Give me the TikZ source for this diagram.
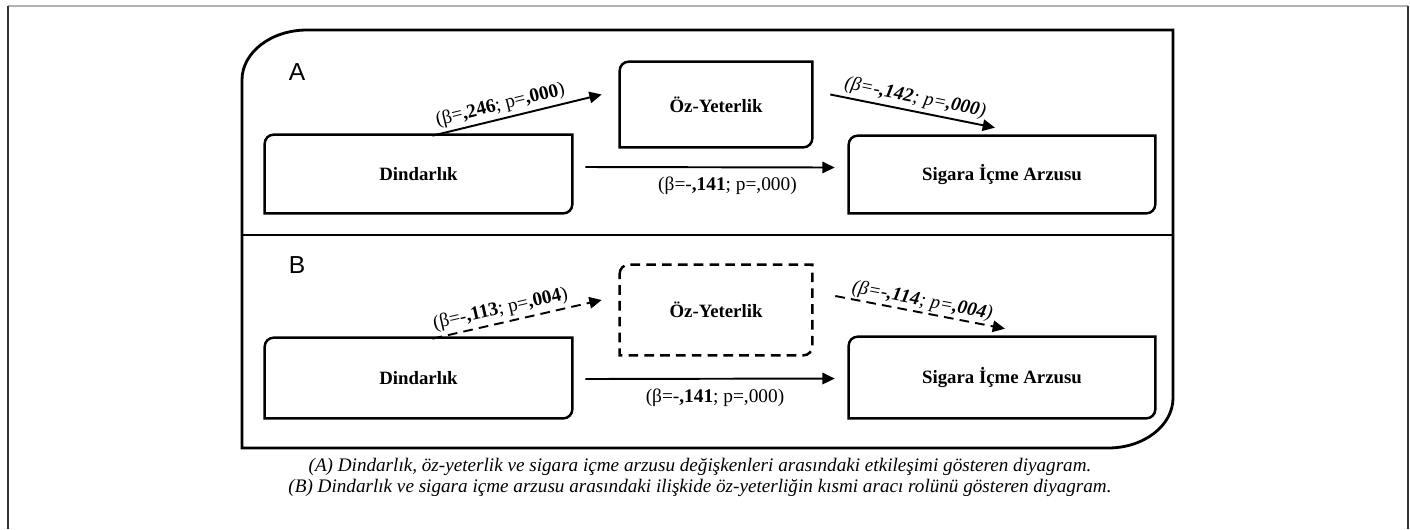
\documentclass[tikz,border=0pt]{standalone}
\usepackage{fontspec}
\setmainfont{Liberation Serif}
\newfontfamily\panelfont{Liberation Sans}
\usetikzlibrary{arrows.meta,calc}

% box with rounded top-left and bottom-right corners
\newcommand\halfround[2][]{%
  \draw[box line,#1] ([yshift=-1.8mm]#2.north west) arc[start angle=180,end angle=90,radius=1.8mm]
    -- (#2.north east) -- ([yshift=1.8mm]#2.south east) arc[start angle=0,end angle=-90,radius=1.8mm]
    -- (#2.south west) -- cycle;}

\tikzset{
  box line/.style={line width=1.4pt},
  var/.style={inner sep=0pt, font=\fontsize{10.7}{12}\selectfont\bfseries},
  panel label/.style={font=\panelfont\fontsize{14}{16}\selectfont},
  path arrow/.style={line width=1.1pt, -{Triangle[length=7pt,width=6.5pt]}},
  dash arrow/.style={path arrow, dash pattern=on 5.5pt off 3.5pt},
  coef/.style={font=\fontsize{11}{13}\selectfont, inner sep=2pt},
}

\begin{document}
\begin{tikzpicture}[x=0.02cm, y=-0.02cm]
\useasboundingbox (0,0) rectangle (1410,529);

% page frame
\draw[gray!60, line width=1.2pt] (8,6) -- (1408,6);
\draw[black!80, line width=1.2pt] (8,6) -- (8,529);
\draw[black!80, line width=1.2pt] (1408,6) -- (1408,529);

% ---------------------------
% outer panel
% ---------------------------
\coordinate (NW) at (242,30);
\coordinate (SE) at (1173,448);
\coordinate (ML) at (242,235);
\coordinate (MR) at (1173,235);
\draw[line width=1.6pt] ([yshift=-1cm]NW) arc[start angle=180,end angle=90,x radius=1.3cm,y radius=1cm]
  -- (NW -| SE) -- ([yshift=1cm]SE) arc[start angle=0,end angle=-90,x radius=1.3cm,y radius=1cm]
  -- (SE -| NW) -- cycle;
\draw[line width=1.4pt] (ML) -- (MR);

% ---------------------------
% A
% ---------------------------
\begin{scope}[shift={(0,0)}]
  \node[panel label] (pA) at (297,72) {A};
  \node[var, minimum width=6.14cm, minimum height=1.56cm] (D) at (418.5,174) {Dindarlık};
  \node[var, minimum width=3.84cm, minimum height=1.7cm] (O) at (716,104.5) {Öz-Yeterlik};
  \node[var, minimum width=6.12cm, minimum height=1.54cm] (S) at (1002,174.5) {Sigara İçme Arzusu};
  \halfround{D}
  \halfround{O}
  \halfround{S}

  \draw[path arrow] ($(D.north)+(14,1)$) -- ($(O.west)+(-18,-10)$)
    node[coef, sloped, above, pos=0.42] {(β=\textbf{,246}; p=\textbf{,000})};
  \draw[path arrow] ($(O.east)+(18,-10)$) -- ($(S.north)+(-7,-8)$)
    node[coef, sloped, above, midway] {\itshape(β=-\textbf{,142}; p=\textbf{,000})};
  \draw[path arrow] ($(D.east)+(13,-7)$) -- ($(S.west)+(-14,-7)$)
    node[coef, below=3pt, pos=0.57] {(β=-\textbf{,141}; p=,000)};
\end{scope}

% ---------------------------
% B
% ---------------------------
\begin{scope}[shift={(0,0)}]
  \node[panel label] (pB) at (297,265) {B};
  \node[var, minimum width=6.14cm, minimum height=1.6cm] (D) at (418.5,378) {Dindarlık};
  \node[var, minimum width=3.84cm, minimum height=1.8cm] (O) at (716,310) {Öz-Yeterlik};
  \node[var, minimum width=6.12cm, minimum height=1.62cm] (S) at (1002,377.5) {Sigara İçme Arzusu};
  \halfround{D}
  \halfround[dash pattern=on 5.5pt off 3.5pt]{O}
  \halfround{S}

  \draw[dash arrow] ($(D.north)+(14,1)$) -- ($(O.west)+(-18,-10)$)
    node[coef, sloped, above, pos=0.42] {(β=-\textbf{,113}; p=\textbf{,004})};
  \draw[dash arrow] ($(O.east)+(23,-14)$) -- ($(S.north)+(3,-8)$)
    node[coef, sloped, above, midway, inner sep=1pt] {\itshape(β=-\textbf{,114}; p=\textbf{,004})};
  \draw[path arrow] ($(D.east)+(13,1)$) -- ($(S.west)+(-14,1)$)
    node[coef, below=3pt, pos=0.52] {(β=-\textbf{,141}; p=,000)};
\end{scope}

% caption
\node[font=\fontsize{10.9}{12}\selectfont\itshape, align=center] (cap) at (700,477)
  {(A) Dindarlık, öz-yeterlik ve sigara içme arzusu değişkenleri arasındaki etkileşimi gösteren diyagram.\\
   (B) Dindarlık ve sigara içme arzusu arasındaki ilişkide öz-yeterliğin kısmi aracı rolünü gösteren diyagram.};

\end{tikzpicture}
\end{document}
